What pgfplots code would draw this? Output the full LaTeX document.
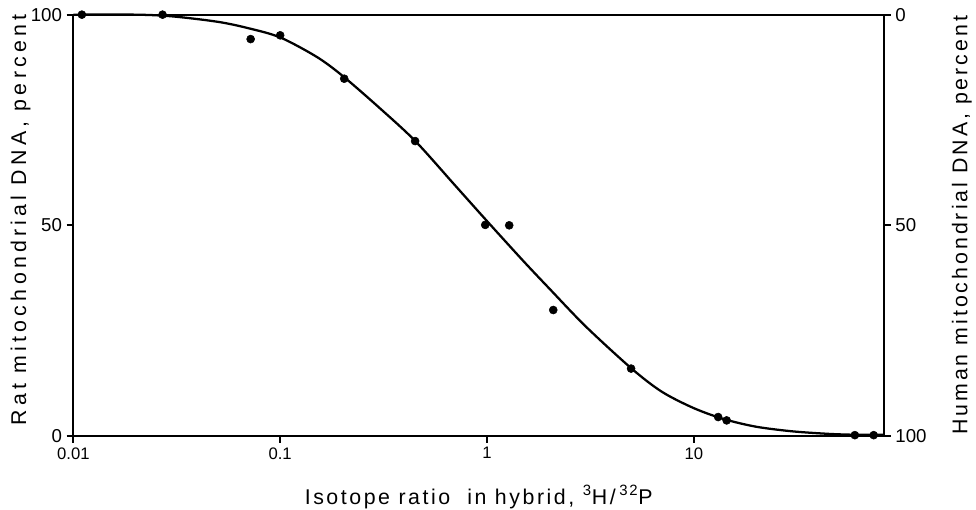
\documentclass[border=0pt]{standalone}
\usepackage{fontspec}
\setmainfont{Liberation Sans}
\newfontfamily\xlabelfont[LetterSpace=12]{Liberation Sans}
\newfontfamily\ylabelfont[LetterSpace=20]{Liberation Sans}
\newfontfamily\rlabelfont[LetterSpace=14]{Liberation Sans}
\usepackage{pgfplots}
\usepackage{pgfplotstable}
\pgfplotsset{compat=1.18}
\pgfplotsset{
  chartbase/.style={scale only axis, width=608pt, height=316pt,
    xmin=0.01, xmax=83, ymin=0, ymax=100,
    tick align=outside, major tick length=5pt,
    axis line style={line width=1.3pt},
    every tick/.style={line width=1.3pt, black},
    /pgf/number format/assume math mode=true,
    ytick={0,50,100},
    yticklabel style={font=\fontsize{14}{16}\selectfont},
  }}
\pgfplotstableread{
x y
0.01 100
0.02 100
0.03 99.6
0.05 98.3
0.07 96.8
0.1 94.6
0.15 90
0.2 85.5
0.3 78
0.45 70
0.7 59.5
1.0 51
1.5 41.5
2.0 35
3.0 26
5.0 16
7.0 10.5
10 6.6
14 4.0
20 2.2
30 1.1
45 0.5
60 0.3
83 0.3
}\curvedata
\pgfplotstableread{
x y
0.011 100
0.027 100
0.072 94.2
0.1 95.1
0.204 84.8
0.449 70
0.98 50.1
1.28 50
2.09 29.9
4.97 16
13.1 4.5
14.4 3.7
60 0.2
74 0.2
}\pointdata
\begin{document}
\begin{tikzpicture}
\begin{semilogxaxis}[chartbase,
  xtick={0.01,0.1,1,10}, xticklabels={0.01,0.1,1,10}, xminorticks=false,
  xtick pos=bottom, ytick pos=left,
  xticklabel style={font=\fontsize{12.5}{14}\selectfont},
  xlabel={Isotope ratio\ \ in hybrid, \textsuperscript{3}H/\,\textsuperscript{32}P},
  ylabel={Rat mitochondrial DNA, percent},
  xlabel style={font=\xlabelfont\fontsize{16}{18}\selectfont,
    at={(axis description cs:0.5,-0.145)}, anchor=center},
  ylabel style={font=\ylabelfont\fontsize{16}{18}\selectfont,
    at={(axis description cs:-0.065,0.513)}, anchor=center},
  clip=false]
\addplot[line width=1.7pt, smooth, tension=0.5] table {\curvedata};
\addplot[only marks, mark=*, mark size=3pt] table {\pointdata};
\end{semilogxaxis}
\begin{semilogxaxis}[chartbase, y dir=reverse, hide x axis, axis y line*=right,
  ylabel={Human mitochondrial DNA, percent},
  ylabel style={font=\rlabelfont\fontsize{16}{18}\selectfont,
    at={(axis description cs:1.096,0.5)}, anchor=center}]
\addplot[draw=none] coordinates {(1,50)};
\end{semilogxaxis}
\pgfresetboundingbox
\path[use as bounding box] (-55pt,-55pt) rectangle (677pt,327pt);
\end{tikzpicture}
\end{document}
